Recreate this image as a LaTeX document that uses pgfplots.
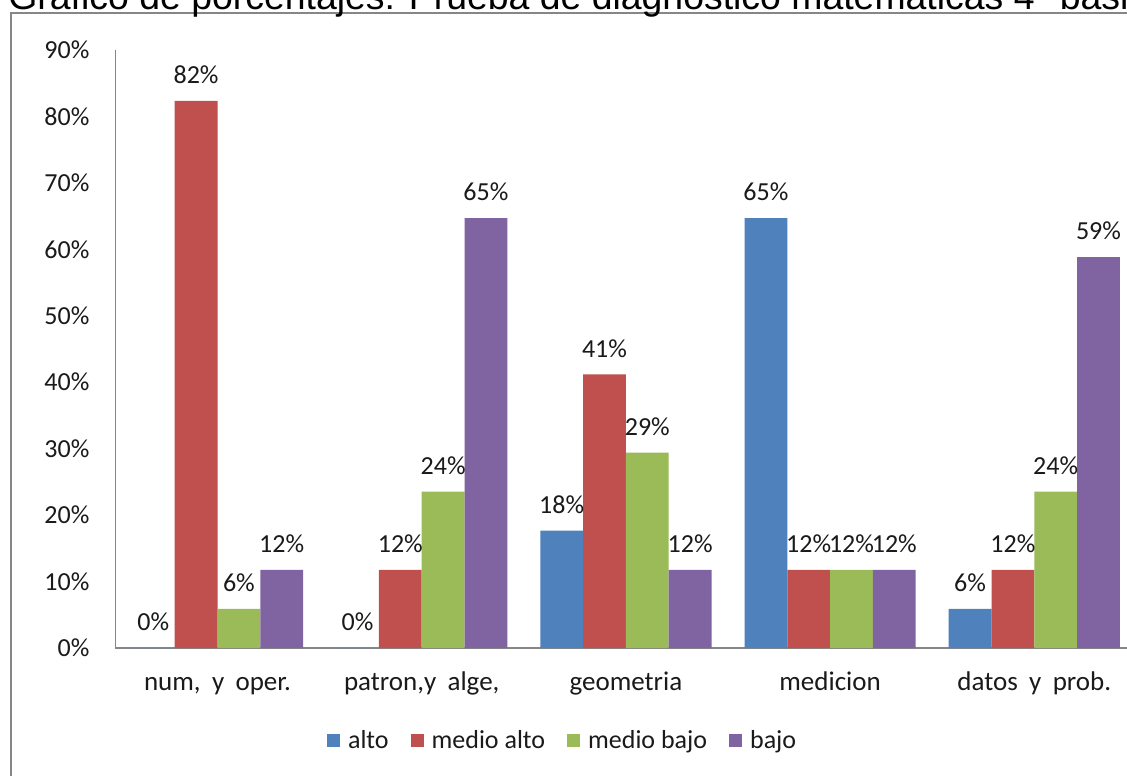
\documentclass[border=0pt]{standalone}
\usepackage{pgfplots}
\pgfplotsset{compat=1.18}
\usepackage{fontspec}
\setmainfont{Carlito}
\newfontfamily\titlefont{Liberation Sans}
\definecolor{cblue}{HTML}{4F81BD}
\definecolor{cred}{HTML}{C0504D}
\definecolor{cgreen}{HTML}{9BBB59}
\definecolor{cpurple}{HTML}{8064A2}
\definecolor{axgray}{HTML}{868686}
\definecolor{txt}{HTML}{1A1A1A}
\newcommand\xlfont{\fontsize{13.5}{16}\selectfont\spaceskip=0.42em\relax}
\begin{document}
\begin{tikzpicture}
\path[use as bounding box, clip] (0,0) rectangle (563.5pt,387.5pt);
\fill[white] (0,0) rectangle (563.5pt,387.5pt);
\draw[axgray, line width=1pt] (5.5pt,-5pt) -- (5.5pt,381pt) -- (600pt,381pt);
\node[anchor=base west, font=\titlefont\fontsize{18.7}{22}\selectfont, inner sep=0pt] at (4pt,382.8pt) {Grafico de porcentajes: Prueba de diagnostico matematicas 4° basico};
\begin{axis}[
  at={(57.7pt,63.5pt)}, anchor=south west,
  scale only axis, width=510.5pt, height=299pt,
  ybar=0pt, bar width=21.4pt,
  xmin=-0.5, xmax=4.5, ymin=0, ymax=90,
  xtick={0,1,2,3,4},
  xticklabels={{num, y oper.},{patron,y alge,},geometria,medicion,{datos y prob.}},
  ytick={0,10,...,90},
  yticklabel={\pgfmathprintnumber[assume math mode=true]{\tick}\%},
  axis x line*=bottom, axis y line*=left,
  axis line style={axgray, line width=0.8pt},
  major tick length=0pt,
  tick label style={text=txt},
  yticklabel style={font=\fontsize{13}{15}\selectfont, xshift=-9.5pt},
  xticklabel style={font=\xlfont, anchor=base, yshift=-21.3pt},
  nodes near coords={\pgfmathprintnumber[fixed,precision=0,assume math mode=true]{\pgfplotspointmeta}\%},
  every node near coord/.append style={anchor=center, yshift=13pt, font=\fontsize{13}{15}\selectfont, text=txt},
  legend style={at={(0.439,-0.1555)}, anchor=center, draw=none, fill=none, legend columns=4, font=\fontsize{13}{15}\selectfont, text=txt, column sep=9pt, /tikz/every odd column/.style={column sep=2pt}},
  legend image code/.code={\fill[#1] (0pt,-3.2pt) rectangle (6.5pt,3.3pt);},
  clip=false,
]
\addplot[fill=cblue, draw=none] coordinates {(0,0) (1,0) (2,17.65) (3,64.71) (4,5.88)};
\addplot[fill=cred, draw=none] coordinates {(0,82.35) (1,11.76) (2,41.18) (3,11.76) (4,11.76)};
\addplot[fill=cgreen, draw=none] coordinates {(0,5.88) (1,23.53) (2,29.41) (3,11.76) (4,23.53)};
\addplot[fill=cpurple, draw=none] coordinates {(0,11.76) (1,64.71) (2,11.76) (3,11.76) (4,58.82)};
\legend{alto, medio alto, medio bajo, bajo}
\end{axis}
\end{tikzpicture}
\end{document}
